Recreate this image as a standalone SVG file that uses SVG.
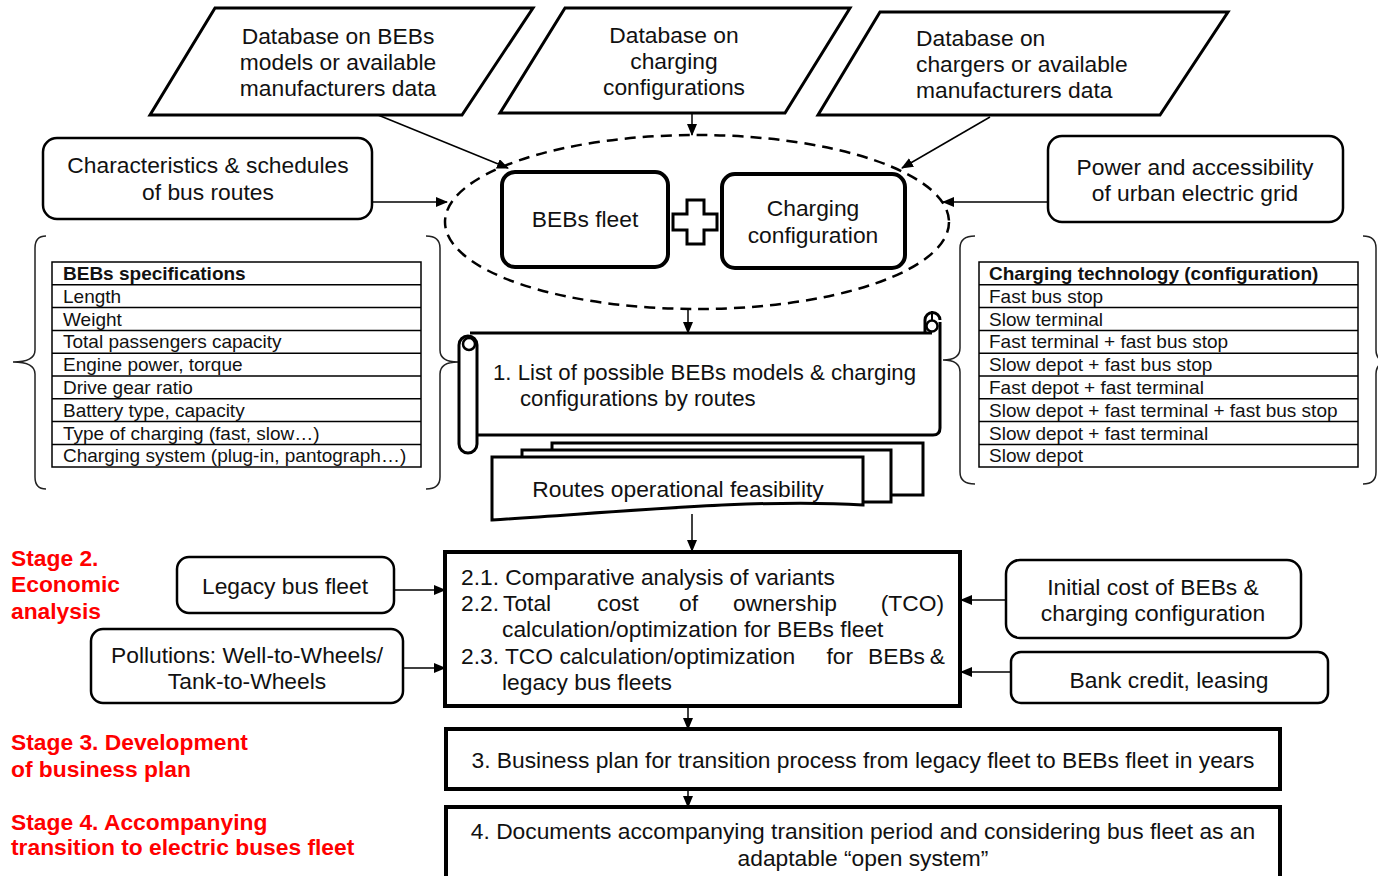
<svg xmlns="http://www.w3.org/2000/svg" width="1378" height="876" viewBox="0 0 1378 876">
<defs>
<marker id="ah" markerUnits="userSpaceOnUse" markerWidth="12" markerHeight="10" refX="11" refY="5" orient="auto">
<path d="M0,0 L12,5 L0,10 Z" fill="#000"/>
</marker>
<style>
text{font-family:"Liberation Sans",Arial,sans-serif;fill:#111;}
.t{font-size:22.8px;}
.s{font-size:22.2px;}
.c{text-anchor:middle;}
.e{text-anchor:end;}
.tb{font-size:19px;}
.hb{font-weight:bold;}
.red{fill:#ff0000;font-weight:bold;font-size:22.8px;}
.para{fill:#fff;stroke:#000;stroke-width:3;}
.rbox{fill:#fff;stroke:#000;stroke-width:2.5;}
.thick{fill:#fff;stroke:#000;stroke-width:4;}
.tbl{fill:none;stroke:#000;stroke-width:1.5;}
.brace{fill:none;stroke:#222;stroke-width:1.5;}
.conn line{stroke:#000;stroke-width:1.5;marker-end:url(#ah);}
</style>
</defs>
<rect width="1378" height="876" fill="#fff"/>

<g id="db-bebs">
<polygon class="para" points="215,8 533,8 462,115 150,115"/>
<text class="t c" x="338" y="44">Database on BEBs</text>
<text class="t c" x="338" y="70">models or available</text>
<text class="t c" x="338" y="96">manufacturers data</text>
</g>
<g id="db-charging">
<polygon class="para" points="565,8 850,8 785,113 500,113"/>
<text class="t c" x="674" y="43">Database on</text>
<text class="t c" x="674" y="69">charging</text>
<text class="t c" x="674" y="95">configurations</text>
</g>
<g id="db-chargers">
<polygon class="para" points="880,12 1228,12 1160,115 818,115"/>
<text class="t" x="916" y="46">Database on</text>
<text class="t" x="916" y="72">chargers or available</text>
<text class="t" x="916" y="98">manufacturers data</text>
</g>

<g id="bus-routes">
<rect class="rbox" x="43" y="138" width="329" height="81" rx="14"/>
<text class="t c" x="208" y="173">Characteristics &amp; schedules</text>
<text class="t c" x="208" y="200">of bus routes</text>
</g>
<g id="grid">
<rect class="rbox" x="1048" y="136" width="295" height="86" rx="14"/>
<text class="t c" x="1195" y="175">Power and accessibility</text>
<text class="t c" x="1195" y="201">of urban electric grid</text>
</g>

<g id="core">
<ellipse cx="697" cy="222" rx="252" ry="87" fill="none" stroke="#000" stroke-width="2.5" stroke-dasharray="11,7"/>
<rect x="502" y="172" width="166" height="95" rx="13" fill="#fff" stroke="#000" stroke-width="4"/>
<text class="t c" x="585" y="227">BEBs fleet</text>
<rect x="722" y="174" width="183" height="94" rx="13" fill="#fff" stroke="#000" stroke-width="4"/>
<text class="t c" x="813" y="216">Charging</text>
<text class="t c" x="813" y="243">configuration</text>
<path d="M687,200 H704 V214 H717 V230 H704 V244 H687 V230 H673 V214 H687 Z" fill="#fff" stroke="#000" stroke-width="3"/>
</g>

<g id="spec-table">
<path class="brace" d="M46,236 Q35,236 35,248 V350 Q35,362 13,362 Q35,362 35,374 V477 Q35,489 46,489"/>
<path class="brace" d="M426,236 Q440,236 440,248 V350 Q440,362 458,362 Q440,362 440,374 V477 Q440,489 426,489"/>
<rect class="tbl" x="52" y="262" width="369" height="205"/>
<path class="tbl" d="M52,284.8 H421 M52,307.6 H421 M52,330.4 H421 M52,353.2 H421 M52,376 H421 M52,398.8 H421 M52,421.6 H421 M52,444.4 H421"/>
<text class="tb hb" x="63" y="280">BEBs specifications</text>
<text class="tb" x="63" y="302.8">Length</text>
<text class="tb" x="63" y="325.6">Weight</text>
<text class="tb" x="63" y="348.4">Total passengers capacity</text>
<text class="tb" x="63" y="371.2">Engine power, torque</text>
<text class="tb" x="63" y="394">Drive gear ratio</text>
<text class="tb" x="63" y="416.8">Battery type, capacity</text>
<text class="tb" x="63" y="439.6">Type of charging (fast, slow…)</text>
<text class="tb" x="63" y="462.4">Charging system (plug-in, pantograph…)</text>
</g>

<g id="charging-table">
<path class="brace" d="M975,236 Q960,236 960,248 V348 Q960,360 943,360 Q960,360 960,372 V472 Q960,484 975,484"/>
<path class="brace" d="M1363,236 Q1376,236 1376,248 V350 Q1376,362 1390,362 Q1376,362 1376,374 V472 Q1376,484 1363,484"/>
<rect class="tbl" x="979" y="262" width="379" height="205"/>
<path class="tbl" d="M979,284.8 H1358 M979,307.6 H1358 M979,330.4 H1358 M979,353.2 H1358 M979,376 H1358 M979,398.8 H1358 M979,421.6 H1358 M979,444.4 H1358"/>
<text class="tb hb" x="989" y="280">Charging technology (configuration)</text>
<text class="tb" x="989" y="302.8">Fast bus stop</text>
<text class="tb" x="989" y="325.6">Slow terminal</text>
<text class="tb" x="989" y="348.4">Fast terminal + fast bus stop</text>
<text class="tb" x="989" y="371.2">Slow depot + fast bus stop</text>
<text class="tb" x="989" y="394">Fast depot + fast terminal</text>
<text class="tb" x="989" y="416.8">Slow depot + fast terminal + fast bus stop</text>
<text class="tb" x="989" y="439.6">Slow depot + fast terminal</text>
<text class="tb" x="989" y="462.4">Slow depot</text>
</g>

<g id="list">
<rect x="470" y="333" width="470" height="102" fill="#fff" stroke="none"/>
<path d="M470,333 H932 M940,322 V428 Q940,435 933,435 H477" fill="none" stroke="#000" stroke-width="3"/>
<path d="M925,333 V320 A7.5,7.5 0 0 1 940,320" fill="none" stroke="#000" stroke-width="3"/>
<circle cx="932" cy="326" r="5.5" fill="#fff" stroke="#000" stroke-width="2.5"/>
<line x1="932" y1="311" x2="932" y2="320" stroke="#000" stroke-width="2"/>
<rect x="459" y="336" width="18" height="117" rx="9" fill="#fff" stroke="#000" stroke-width="3"/>
<circle cx="469" cy="344" r="6" fill="#fff" stroke="#000" stroke-width="2.5"/>
<text class="s" x="493" y="380">1. List of possible BEBs models &amp; charging</text>
<text class="s" x="520" y="406">configurations by routes</text>
</g>

<g id="feasibility">
<path d="M552,443 H923 V495 H552 Z" fill="#fff" stroke="#000" stroke-width="3"/>
<path d="M522,450 H891 V502 H522 Z" fill="#fff" stroke="#000" stroke-width="3"/>
<path d="M492,457 H863 V505 C760,498 620,512 492,520 Z" fill="#fff" stroke="#000" stroke-width="3"/>
<text class="t c" x="678" y="497">Routes operational feasibility</text>
</g>

<g id="economic">
<rect class="thick" x="445" y="552" width="515" height="154"/>
<text class="t" x="461" y="585">2.1. Comparative analysis of variants</text>
<text class="t" x="461" y="611">2.2.</text>
<text class="t" x="503" y="611">Total</text>
<text class="t" x="597" y="611">cost</text>
<text class="t" x="679" y="611">of</text>
<text class="t" x="733" y="611">ownership</text>
<text class="t e" x="944" y="611">(TCO)</text>
<text class="t" x="502" y="637">calculation/optimization for BEBs fleet</text>
<text class="t" x="461" y="664">2.3. TCO calculation/optimization</text>
<text class="t e" x="853" y="664">for</text>
<text class="t e" x="925" y="664">BEBs</text>
<text class="t e" x="945" y="664">&amp;</text>
<text class="t" x="502" y="690">legacy bus fleets</text>
</g>

<g id="legacy">
<rect class="rbox" x="177" y="557" width="217" height="56" rx="12"/>
<text class="t c" x="285" y="594">Legacy bus fleet</text>
</g>
<g id="pollutions">
<rect class="rbox" x="91" y="629" width="312" height="74" rx="12"/>
<text class="t c" x="247" y="663">Pollutions: Well-to-Wheels/</text>
<text class="t c" x="247" y="689">Tank-to-Wheels</text>
</g>
<g id="initial-cost">
<rect class="rbox" x="1006" y="560" width="295" height="78" rx="14"/>
<text class="t c" x="1153" y="595">Initial cost of BEBs &amp;</text>
<text class="t c" x="1153" y="621">charging configuration</text>
</g>
<g id="bank">
<rect class="rbox" x="1011" y="652" width="317" height="51" rx="10"/>
<text class="t c" x="1169" y="688">Bank credit, leasing</text>
</g>

<g id="business-plan">
<rect class="thick" x="446" y="729" width="834" height="60"/>
<text class="t c" x="863" y="768">3. Business plan for transition process from legacy fleet to BEBs fleet in years</text>
</g>
<g id="documents">
<rect class="thick" x="446" y="807" width="834" height="75"/>
<text class="t c" x="863" y="839">4. Documents accompanying transition period and considering bus fleet as an</text>
<text class="t c" x="863" y="866">adaptable “open system”</text>
</g>

<g id="stages">
<text class="red" x="11" y="566">Stage 2.</text>
<text class="red" x="11" y="592">Economic</text>
<text class="red" x="11" y="619">analysis</text>
<text class="red" x="11" y="750">Stage 3. Development</text>
<text class="red" x="11" y="777">of business plan</text>
<text class="red" x="11" y="830">Stage 4. Accompanying</text>
<text class="red" x="11" y="855">transition to electric buses fleet</text>
</g>

<g id="connectors" class="conn">
<line x1="378" y1="115" x2="508" y2="168"/>
<line x1="692" y1="113" x2="692" y2="135"/>
<line x1="990" y1="117" x2="902" y2="168"/>
<line x1="372" y1="202" x2="447" y2="202"/>
<line x1="1048" y1="202" x2="943" y2="202"/>
<line x1="688" y1="309" x2="688" y2="333"/>
<line x1="692" y1="514" x2="692" y2="551"/>
<line x1="394" y1="590" x2="445" y2="590"/>
<line x1="403" y1="668" x2="445" y2="668"/>
<line x1="1006" y1="600" x2="961" y2="600"/>
<line x1="1011" y1="672" x2="961" y2="672"/>
<line x1="688" y1="707" x2="688" y2="729"/>
<line x1="688" y1="789" x2="688" y2="807"/>
</g>
</svg>
